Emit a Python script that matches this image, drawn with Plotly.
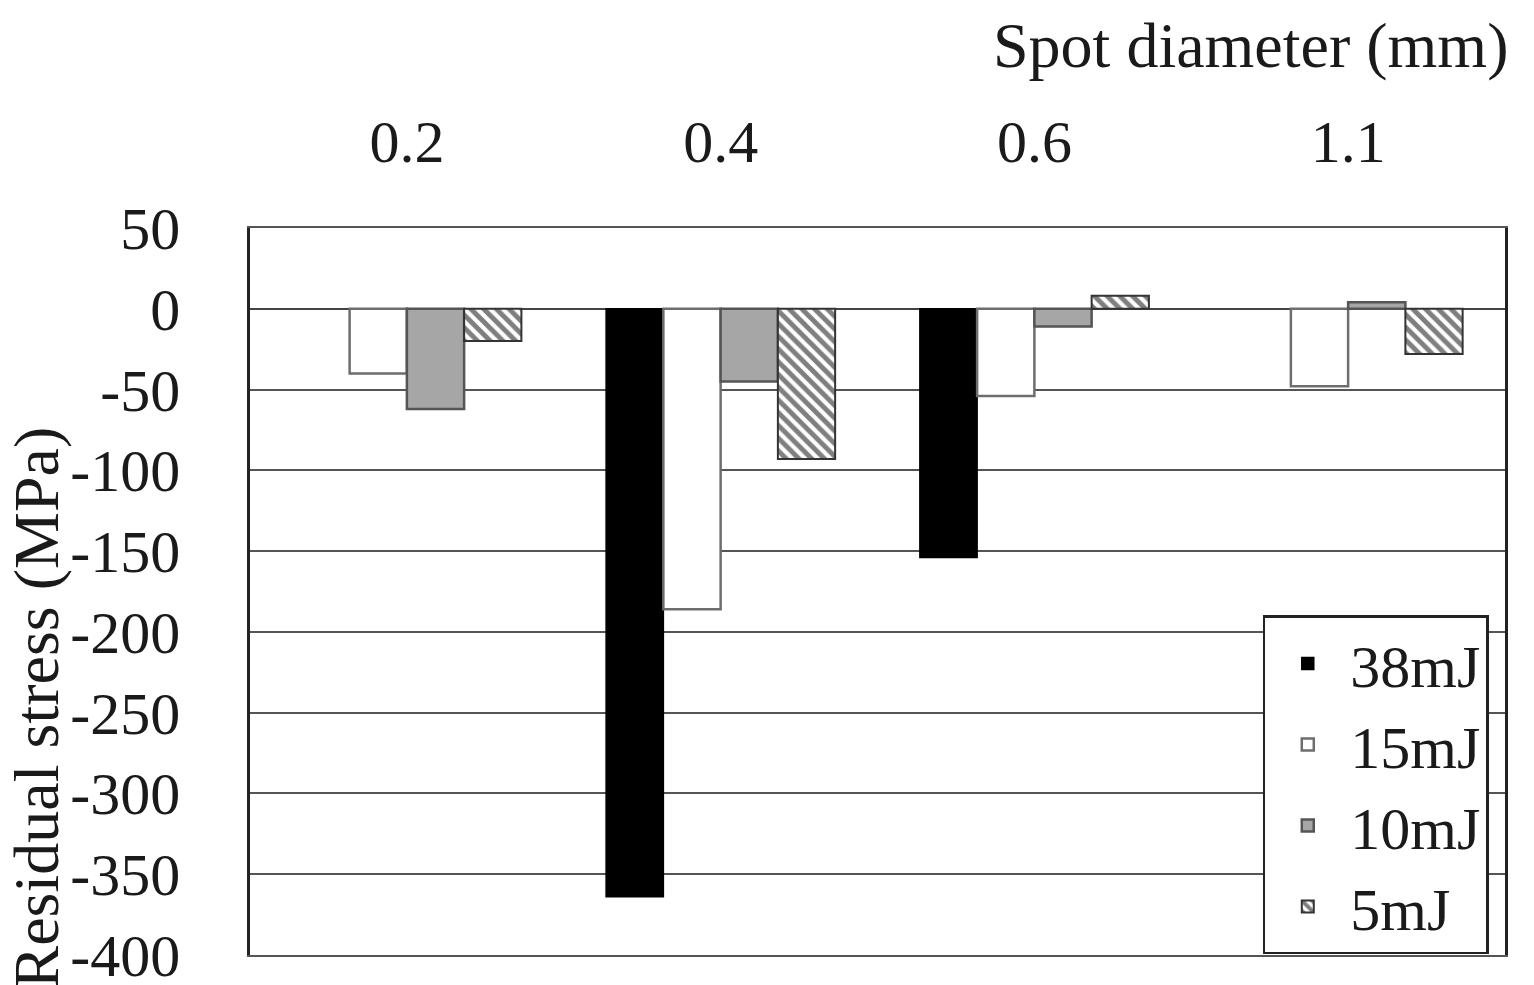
import plotly.graph_objects as go

# spot diameter (mm) categories and residual stress (MPa) per pulse energy
diameters = ["0.2", "0.4", "0.6", "1.1"]
stress_38mj = [None, -364, -154, None]
stress_15mj = [-40, -186, -54, -48]
stress_10mj = [-62, -45, -11, 4]
stress_5mj = [-20, -93, 8, -28]

y_ticks = [50, 0, -50, -100, -150, -200, -250, -300, -350, -400]
y_tick_text = ["50", "0", "-50", "-100", "-150", "-200", "-250", "-300", "-350", "-400"]

FONT = "Liberation Serif"

fig = go.Figure()
fig.add_trace(go.Bar(
    x=diameters, y=stress_38mj, name="38mJ",
    marker=dict(color="black", line=dict(color="black", width=1.5)),
))
fig.add_trace(go.Bar(
    x=diameters, y=stress_15mj, name="15mJ",
    marker=dict(color="white", line=dict(color="#6e6e6e", width=2.5)),
))
fig.add_trace(go.Bar(
    x=diameters, y=stress_10mj, name="10mJ",
    marker=dict(color="#a6a6a6", line=dict(color="#555555", width=2.5)),
))
fig.add_trace(go.Bar(
    x=diameters, y=stress_5mj, name="5mJ",
    marker=dict(
        color="white",
        line=dict(color="#333333", width=2),
        pattern=dict(shape="\\", fgcolor="black", bgcolor="white", size=9, solidity=0.55),
    ),
))

# page is drawn with an 8px body offset, so the figure is sized to fit the window
fig.update_layout(
    width=1526,
    height=977,
    margin=dict(l=242, r=29, t=220, b=30, autoexpand=False),
    paper_bgcolor="white",
    plot_bgcolor="white",
    barmode="group",
    bargap=0.27,
    bargroupgap=0,
    font=dict(family=FONT, size=60, color="#1a1a1a"),
    showlegend=True,
    legend=dict(
        x=0.807, y=0.467, xanchor="left", yanchor="top",
        bgcolor="white", bordercolor="#222", borderwidth=2.5,
        font=dict(family=FONT, size=60, color="#1a1a1a"),
        tracegroupgap=0, itemwidth=75,
    ),
    xaxis=dict(
        side="top", type="category", automargin=False,
        showgrid=False, ticks="", ticklabelstandoff=40,
        showline=True, linecolor="#555", linewidth=2, mirror=True,
        tickfont=dict(size=60),
    ),
    yaxis=dict(
        range=[-400, 50], tickvals=y_ticks, ticktext=y_tick_text, automargin=False,
        showgrid=True, gridcolor="#555", gridwidth=1.5,
        zeroline=True, zerolinecolor="#444", zerolinewidth=2,
        ticks="", ticklabelstandoff=55, ticklabeloverflow="allow",
        showline=True, linecolor="#222", linewidth=2.5, mirror=True,
        tickfont=dict(size=60),
    ),
    annotations=[
        dict(
            text="Spot diameter (mm)", x=1.004, y=1.251, xref="paper", yref="paper",
            xanchor="right", yanchor="middle", showarrow=False,
            font=dict(family=FONT, size=64, color="#1a1a1a"),
        ),
        dict(
            text="Residual stress (MPa)", x=-0.17, y=0.34, xref="paper", yref="paper",
            xanchor="center", yanchor="middle", textangle=-90, showarrow=False,
            font=dict(family=FONT, size=64, color="#1a1a1a"),
        ),
    ],
)

fig.write_html("out.html")
